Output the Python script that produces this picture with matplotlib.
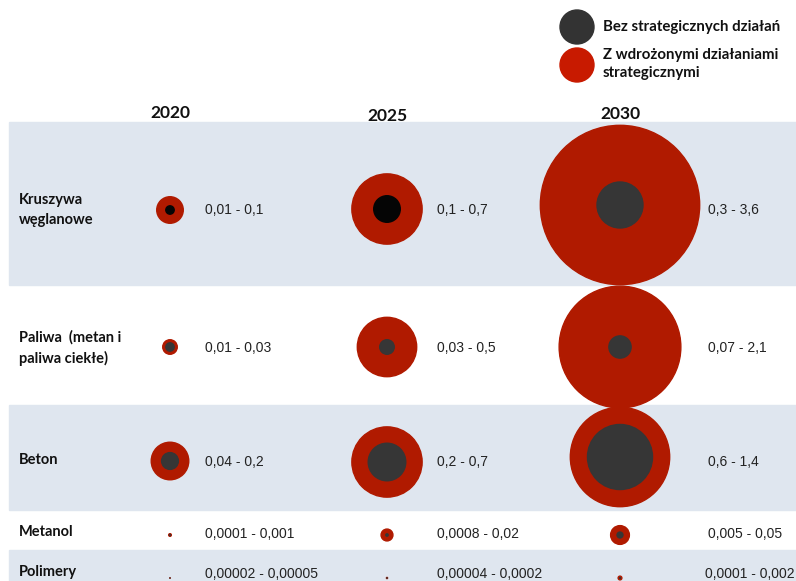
import matplotlib.pyplot as plt
from matplotlib.patches import Circle, Rectangle
import numpy as np

# data: low / high estimate per material and year
materials = ["Kruszywa\nwęglanowe", "Paliwa  (metan i\npaliwa ciekłe)", "Beton", "Metanol", "Polimery"]
years = ["2020", "2025", "2030"]
low = [[0.01, 0.1, 0.3],
       [0.01, 0.03, 0.07],
       [0.04, 0.2, 0.6],
       [0.0001, 0.0008, 0.005],
       [0.00002, 0.00004, 0.0001]]
high = [[0.1, 0.7, 3.6],
        [0.03, 0.5, 2.1],
        [0.2, 0.7, 1.4],
        [0.001, 0.02, 0.05],
        [0.00005, 0.0002, 0.002]]
labels = [["0,01 - 0,1", "0,1 - 0,7", "0,3 - 3,6"],
          ["0,01 - 0,03", "0,03 - 0,5", "0,07 - 2,1"],
          ["0,04 - 0,2", "0,2 - 0,7", "0,6 - 1,4"],
          ["0,0001 - 0,001", "0,0008 - 0,02", "0,005 - 0,05"],
          ["0,00002 - 0,00005", "0,00004 - 0,0002", "0,0001 - 0,002"]]

RED = "#b01a00"
GRAY = "#363636"
BAND = "#dfe6ef"
k = 42.0  # px per sqrt(unit)

fig = plt.figure(figsize=(7.96, 5.81), dpi=100)
ax = fig.add_axes([0, 0, 1, 1])
ax.set_xlim(0, 796)
ax.set_ylim(581, 0)
ax.set_aspect("equal")
ax.axis("off")

bands = [(122, 285), (285, 405), (405, 510), (510, 550), (550, 600)]
row_y = [209, 347, 461, 535, 578]
text_y = [210, 348, 462, 534, 574]
col_x = [170, 387, 620]
lab_x = [205, 437, 708]
head_y = [113, 116, 114]

for i, (y0, y1) in enumerate(bands):
    if i % 2 == 0:
        ax.add_patch(Rectangle((9, y0), 796 - 9, y1 - y0, color=BAND, zorder=0))

for j, yr in enumerate(years):
    ax.text(col_x[j], head_y[j], yr, ha="center", va="center",
            fontsize=12.5, fontweight="bold", family="Lato", color="#111111")

for i, m in enumerate(materials):
    ax.text(19, text_y[i] - (0 if "\n" in m else 2), m, ha="left", va="center",
            fontsize=10.5, fontweight="bold", family="Lato", color="#111111",
            linespacing=1.5)
    for j in range(3):
        cy = row_y[i]
        if i == 0:
            cy = [210, 209, 205][j]
        if i == 2:
            cy = [461, 462, 457][j]
        ax.add_patch(Circle((col_x[j], cy), k * np.sqrt(high[i][j]), color=RED, zorder=2))
        inner = "#050505" if (i == 0 and j < 2) else GRAY
        ax.add_patch(Circle((col_x[j], cy), k * np.sqrt(low[i][j]), color=inner, zorder=3))
        lx = lab_x[j] - (3 if (i == 4 and j == 2) else 0)
        ax.text(lx, text_y[i], labels[i][j], ha="left", va="center",
                fontsize=10, family="Liberation Sans", color="#222222")

# legend
ax.add_patch(Circle((577, 27), 17, color="#333333"))
ax.add_patch(Circle((577, 65), 17, color="#c81a00"))
ax.text(603, 27, "Bez strategicznych działań", ha="left", va="center",
        fontsize=10.8, fontweight="bold", family="Lato", color="#111111")
ax.text(603, 64, "Z wdrożonymi działaniami\nstrategicznymi", ha="left", va="center",
        fontsize=10.8, fontweight="bold", family="Lato", color="#111111", linespacing=1.4)

fig.savefig("out.png", dpi=100)
